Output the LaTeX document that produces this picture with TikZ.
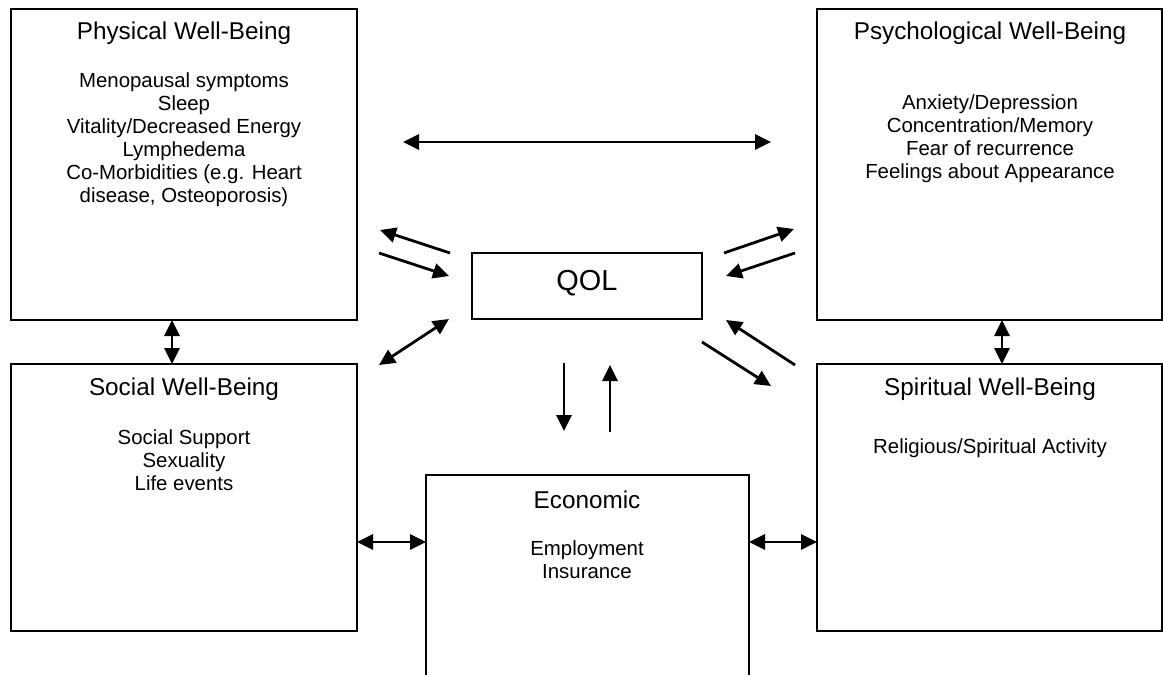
\documentclass[tikz,border=0pt]{standalone}
\usepackage{fontspec}
\setmainfont{Liberation Sans}
\usetikzlibrary{arrows.meta}
\tikzset{
  box/.style={draw=black, line width=2.3pt, fill=none, inner sep=0pt, outer sep=0pt, anchor=north west},
  titletxt/.style={font=\fontsize{24.3}{28}\selectfont, inner sep=0pt, anchor=center},
  bodytxt/.style={font=\fontsize{20.4}{23}\selectfont, align=center, inner sep=0pt, anchor=center},
  qoltxt/.style={font=\fontsize{28.9}{32}\selectfont, inner sep=0pt, anchor=center},
  tip/.tip={Triangle[length=16pt,width=15pt]},
  arr/.style={line width=2.8pt, -tip},
  darr/.style={line width=2.8pt, tip-tip},
}
\begin{document}
\begin{tikzpicture}[x=1pt,y=-1pt]
\useasboundingbox (0,0) rectangle (1163,675);
\fill[white] (0,0) rectangle (1163,675);
\clip (0,0) rectangle (1163,675);
% boxes
\node[box, minimum width=346pt, minimum height=311pt] (phys) at (11,9) {};
\node[box, minimum width=345pt, minimum height=311pt] (psych) at (817,9) {};
\node[box, minimum width=346pt, minimum height=267pt] (soc) at (11,364) {};
\node[box, minimum width=345pt, minimum height=267pt] (spir) at (817,364) {};
\node[box, minimum width=323pt, minimum height=230pt] (econ) at (426,475) {};
\node[box, minimum width=230pt, minimum height=66pt] (qol) at (472,253) {};
% texts
\node[titletxt] (physT) at (184,33) {Physical Well-Being};
\node[bodytxt] (physB) at (184,140) {Menopausal symptoms\\Sleep\\Vitality/Decreased Energy\\Lymphedema\\Co-Morbidities (e.g. Heart\\disease, Osteoporosis)};
\node[titletxt] (psychT) at (990,33) {Psychological Well-Being};
\node[bodytxt] (psychB) at (990,139) {Anxiety/Depression\\Concentration/Memory\\Fear of recurrence\\Feelings about Appearance};
\node[titletxt] (socT) at (184,389) {Social Well-Being};
\node[bodytxt] (socB) at (184,460) {Social Support\\Sexuality\\Life events};
\node[titletxt] (spirT) at (990,389) {Spiritual Well-Being};
\node[bodytxt] (spirB) at (990,448) {Religious/Spiritual Activity};
\node[titletxt] (econT) at (587,500) {Economic};
\node[bodytxt] (econB) at (587,560) {Employment\\Insurance};
\node[qoltxt] (qolT) at (587,283) {QOL};
% free arrow ends
\coordinate (tL) at (403,142);  \coordinate (tR) at (771,142);
\coordinate (a1s) at (450,253); \coordinate (a1e) at (380,230);
\coordinate (a2s) at (379,253); \coordinate (a2e) at (449,276);
\coordinate (a3s) at (379,365); \coordinate (a3e) at (449,319);
\coordinate (a4s) at (564,363); \coordinate (a4e) at (564,431);
\coordinate (a5s) at (610,432); \coordinate (a5e) at (610,365);
\coordinate (a6s) at (724,253); \coordinate (a6e) at (794,229);
\coordinate (a7s) at (795,253); \coordinate (a7e) at (726,276);
\coordinate (a8s) at (795,365); \coordinate (a8e) at (726,320);
\coordinate (a9s) at (702,342); \coordinate (a9e) at (771,386);
\coordinate (vL) at (172,0); \coordinate (vR) at (1002,0);
\coordinate (hB) at (0,542);
% arrows
\draw[darr] (tL) -- (tR);
\draw[arr] (a1s) -- (a1e);
\draw[arr] (a2s) -- (a2e);
\draw[darr] (a3s) -- (a3e);
\draw[arr] (a4s) -- (a4e);
\draw[arr] (a5s) -- (a5e);
\draw[arr] (a6s) -- (a6e);
\draw[arr] (a7s) -- (a7e);
\draw[arr] (a8s) -- (a8e);
\draw[arr] (a9s) -- (a9e);
\draw[darr] (phys.south -| vL) -- (soc.north -| vL);
\draw[darr] (psych.south -| vR) -- (spir.north -| vR);
\draw[darr] (soc.east |- hB) -- (econ.west |- hB);
\draw[darr] (econ.east |- hB) -- (spir.west |- hB);
\end{tikzpicture}
\end{document}
